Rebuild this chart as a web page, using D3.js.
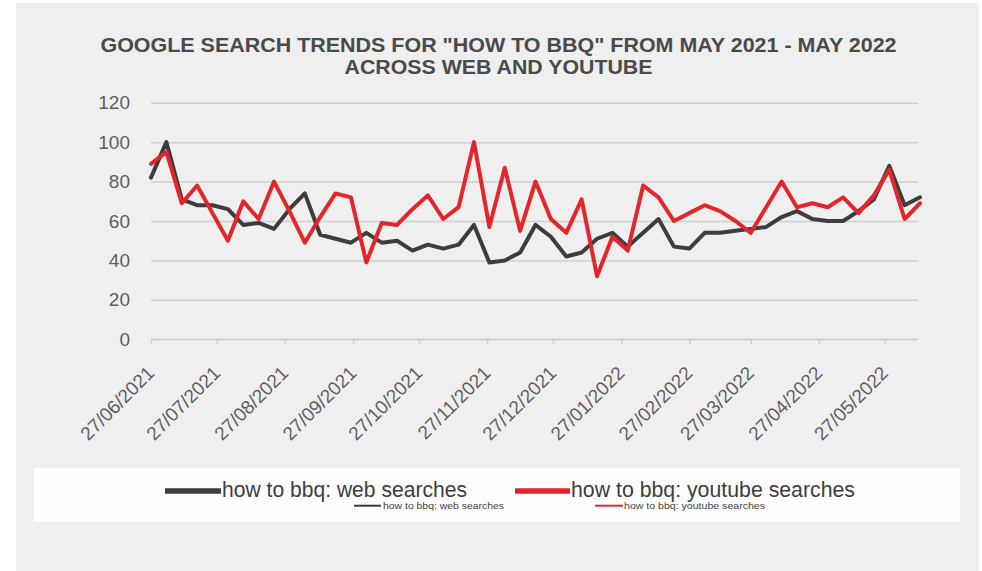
<!DOCTYPE html>
<html><head><meta charset="utf-8">
<script src="https://cdn.jsdelivr.net/npm/d3@7"></script>
<style>
html,body{margin:0;padding:0;background:#ffffff;}
svg{display:block;}
</style></head>
<body>
<svg id="c" width="982" height="571"></svg>
<script>
// ---- data ----
const dates = ["2021-06-27","2021-07-04","2021-07-11","2021-07-18","2021-07-25","2021-08-01","2021-08-08","2021-08-15","2021-08-22","2021-08-29",
"2021-09-05","2021-09-12","2021-09-19","2021-09-26","2021-10-03","2021-10-10","2021-10-17","2021-10-24","2021-10-31","2021-11-07",
"2021-11-14","2021-11-21","2021-11-28","2021-12-05","2021-12-12","2021-12-19","2021-12-26","2022-01-02","2022-01-09","2022-01-16",
"2022-01-23","2022-01-30","2022-02-06","2022-02-13","2022-02-20","2022-02-27","2022-03-06","2022-03-13","2022-03-20","2022-03-27",
"2022-04-03","2022-04-10","2022-04-17","2022-04-24","2022-05-01","2022-05-08","2022-05-15","2022-05-22","2022-05-29","2022-06-05","2022-06-12"];
const webSearches = [82,100,71,68,68,66,58,59,56,66,74,53,51,49,54,49,50,45,48,46,48,58,39,40,44,58,52,42,44,51,54,47,54,61,47,46,54,54,55,56,57,62,65,61,60,60,65,71,88,68,72];
const youtubeSearches = [89,95,69,78,64,50,70,61,80,65,49,62,74,72,39,59,58,66,73,61,67,100,57,87,55,80,61,54,71,32,52,45,78,72,60,64,68,65,60,54,67,80,67,69,67,72,64,73,86,61,69];
const xTickDates = ["2021-06-27","2021-07-27","2021-08-27","2021-09-27","2021-10-27","2021-11-27","2021-12-27","2022-01-27","2022-02-27","2022-03-27","2022-04-27","2022-05-27"];
const yTicks = [0,20,40,60,80,100,120];
const seriesNames = ["how to bbq: web searches","how to bbq: youtube searches"];
const titleLines = ['GOOGLE SEARCH TRENDS FOR "HOW TO BBQ" FROM MAY 2021 - MAY 2022','ACROSS WEB AND YOUTUBE'];

// ---- drawing ----
const parse = d3.utcParse("%Y-%m-%d");
const fmt = d3.utcFormat("%d/%m/%Y");
const svg = d3.select("#c");
const colors = ["#3d3d3d","#e2262c"];

svg.append("rect").attr("x",16).attr("y",3).attr("width",963).attr("height",568).attr("fill","#efefef");

const x = d3.scaleUtc().domain([parse(dates[0]), parse(dates[dates.length-1])]).range([151, 920]);
const y = d3.scaleLinear().domain([0,120]).range([339.3, 102.7]);

// title
svg.selectAll("text.title").data(titleLines).join("text")
  .attr("class","title")
  .attr("x",498.5).attr("y",(d,i)=>51.5+i*22.5)
  .attr("text-anchor","middle")
  .attr("font-family","Liberation Sans, Arial, sans-serif")
  .attr("font-weight","bold").attr("font-size",20.5)
  .attr("fill","#4a4a4a")
  .attr("textLength",(d,i)=> i===0 ? 796 : 308)
  .attr("lengthAdjust","spacingAndGlyphs")
  .text(d=>d);

// y axis with gridlines
const yAxis = d3.axisLeft(y).tickValues(yTicks).tickSize(-767).tickPadding(21);
const gy = svg.append("g").attr("transform","translate(151,0)").call(yAxis);
gy.select(".domain").remove();
gy.selectAll(".tick line").attr("stroke","#cfcfcf").attr("stroke-width",1.5);
gy.selectAll(".tick text").attr("font-family","Liberation Sans, Arial, sans-serif")
  .attr("font-size",19).attr("fill","#5f5f5f");

// x axis
const xAxis = d3.axisBottom(x).tickValues(xTickDates.map(parse)).tickSize(5).tickFormat(fmt);
const gx = svg.append("g").attr("transform","translate(0,339.3)").call(xAxis);
gx.select(".domain").attr("stroke","#cfcfcf").attr("stroke-width",1.5).attr("d","M151,0H918");
gx.selectAll(".tick line").attr("stroke","#cfcfcf").attr("stroke-width",1.5);
gx.selectAll(".tick text")
  .attr("font-family","Liberation Sans, Arial, sans-serif")
  .attr("font-size",19).attr("fill","#5f5f5f")
  .attr("text-anchor","end")
  .attr("y",0).attr("dy",0)
  .attr("transform","translate(4,35) rotate(-45)");

// lines
const line = d3.line().x((d,i)=>x(parse(dates[i]))).y(d=>y(d));
[webSearches, youtubeSearches].forEach((s,k)=>{
  svg.append("path").datum(s).attr("d",line)
    .attr("fill","none").attr("stroke",colors[k]).attr("stroke-width",4)
    .attr("stroke-linejoin","round").attr("stroke-linecap","round");
});

// legend
svg.append("rect").attr("x",34).attr("y",467.7).attr("width",926).attr("height",54).attr("fill","#fdfdfd");
const bigLeg = [{x1:165,x2:221,tx:222,tl:245},{x1:515,x2:570,tx:571,tl:284}];
bigLeg.forEach((L,k)=>{
  svg.append("line").attr("x1",L.x1).attr("x2",L.x2).attr("y1",491).attr("y2",491)
    .attr("stroke",colors[k]).attr("stroke-width",5.5);
  svg.append("text").attr("x",L.tx).attr("y",497)
    .attr("font-family","Liberation Sans, Arial, sans-serif").attr("font-size",22)
    .attr("fill","#3d3d3d").attr("textLength",L.tl).attr("lengthAdjust","spacingAndGlyphs")
    .text(seriesNames[k]);
});
const smallLeg = [{x1:354,x2:381,tx:383,tl:121},{x1:595,x2:623,tx:624,tl:141}];
smallLeg.forEach((L,k)=>{
  svg.append("line").attr("x1",L.x1).attr("x2",L.x2).attr("y1",505.7).attr("y2",505.7)
    .attr("stroke",colors[k]).attr("stroke-width",2);
  svg.append("text").attr("x",L.tx).attr("y",509)
    .attr("font-family","Liberation Sans, Arial, sans-serif").attr("font-size",9)
    .attr("fill","#444").attr("textLength",L.tl).attr("lengthAdjust","spacingAndGlyphs")
    .text(seriesNames[k]);
});
</script>
</body></html>
